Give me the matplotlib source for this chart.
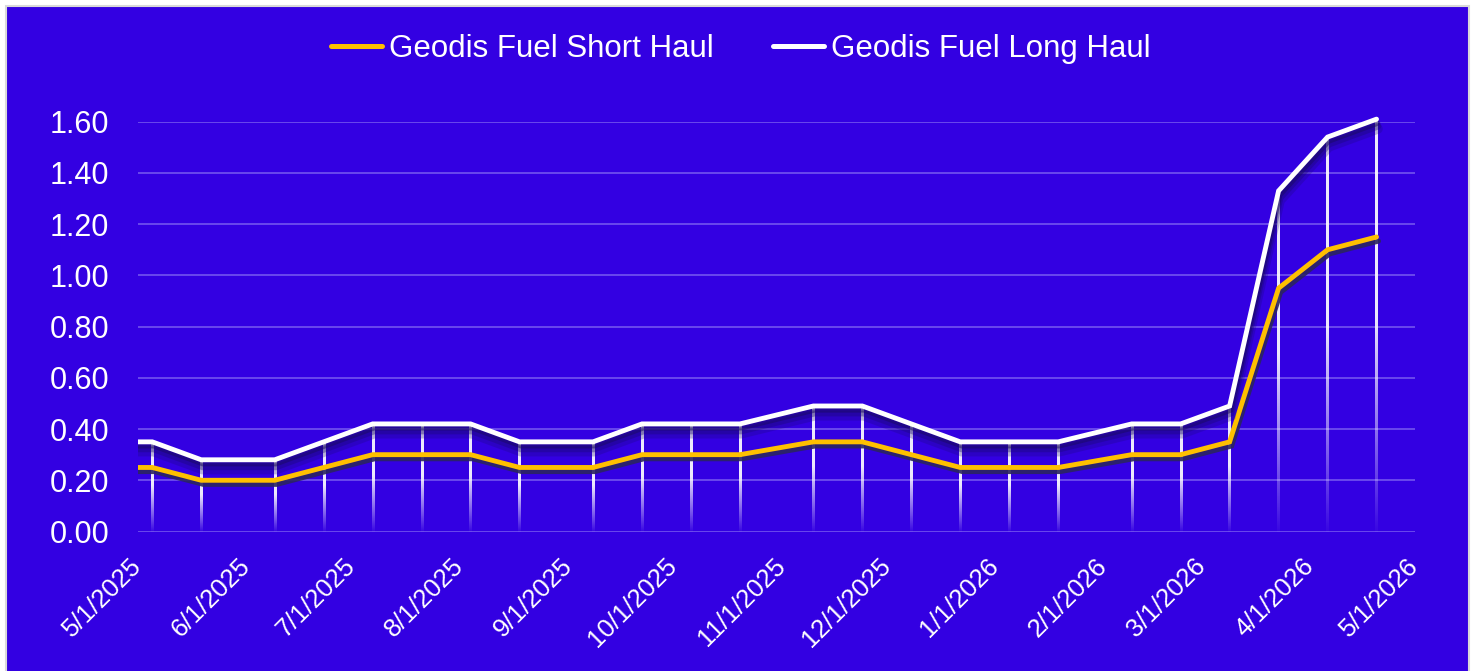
import numpy as np
import pandas as pd
import matplotlib
matplotlib.use("Agg")
import matplotlib.pyplot as plt
import matplotlib.dates as mdates
import matplotlib.patheffects as pe
from matplotlib.lines import Line2D
from matplotlib.patches import Rectangle

# data (first point sits just before the axis start and is clipped)
dates = ["2025-04-21", "2025-05-05", "2025-05-19", "2025-06-09", "2025-06-23",
         "2025-07-07", "2025-07-21", "2025-08-04", "2025-08-18", "2025-09-08",
         "2025-09-22", "2025-10-06", "2025-10-20", "2025-11-10", "2025-11-24",
         "2025-12-08", "2025-12-22", "2026-01-05", "2026-01-19", "2026-02-09",
         "2026-02-23", "2026-03-09", "2026-03-23", "2026-04-06", "2026-04-20"]
short_haul = [0.25, 0.25, 0.20, 0.20, 0.25, 0.30, 0.30, 0.30, 0.25, 0.25,
              0.30, 0.30, 0.30, 0.35, 0.35, 0.30, 0.25, 0.25, 0.25, 0.30,
              0.30, 0.35, 0.95, 1.10, 1.15]
long_haul = [0.35, 0.35, 0.28, 0.28, 0.35, 0.42, 0.42, 0.42, 0.35, 0.35,
             0.42, 0.42, 0.42, 0.49, 0.49, 0.42, 0.35, 0.35, 0.35, 0.42,
             0.42, 0.49, 1.33, 1.54, 1.61]
series_names = ["Geodis Fuel Short Haul", "Geodis Fuel Long Haul"]
month_ticks = pd.date_range("2025-05-01", "2026-05-01", freq="MS")
y_ticks = [0.0, 0.2, 0.4, 0.6, 0.8, 1.0, 1.2, 1.4, 1.6]

BG = "#3300E2"
ORANGE = "#FFC000"
GRID = "#6E4EEE"

plt.rcParams["font.family"] = ["Liberation Sans", "DejaVu Sans"]

x = pd.to_datetime(dates)

fig = plt.figure(figsize=(14.75, 6.71), dpi=100)
fig.patch.set_facecolor("white")
fig.patches.append(Rectangle((6 / 1475, -0.05), 1463 / 1475, 665 / 671 + 0.05,
                             transform=fig.transFigure, facecolor=BG,
                             edgecolor="#D9D9D9", lw=1.5, zorder=-1))

ax = fig.add_axes([138.3 / 1475, 1 - 531.5 / 671, (1415 - 138.3) / 1475, (531.5 - 121.7) / 671])
ax.set_facecolor("none")
for s in ax.spines.values():
    s.set_visible(False)

# clip: keep x inside the axes but let the top point go slightly above 1.60
clip = Rectangle((0, -0.02), 1, 1.1, transform=ax.transAxes)

# drop lines, fading towards the baseline (thin gradient images)
xnum = mdates.date2num(x)
half_w = 0.32  # days, ~2 px
for xi, top in zip(xnum, np.maximum(short_haul, long_haul)):
    frac = np.linspace(1, 0, 200)[:, None]
    grad = np.ones((200, 1, 4))
    grad[..., 3] = np.clip(0.03 + 1.7 * frac, 0, 0.92)
    im = ax.imshow(grad, extent=(xi - half_w, xi + half_w, 0, top), aspect="auto",
                   interpolation="bilinear", zorder=2)
    im.set_clip_path(clip)

white_fx = [pe.SimpleLineShadow(offset=(1, -7), shadow_color="#1A0A70", alpha=0.25, linewidth=7),
            pe.SimpleLineShadow(offset=(1, -5), shadow_color="#1A0A70", alpha=0.35, linewidth=5),
            pe.SimpleLineShadow(offset=(1, -3), shadow_color="#1A0A60", alpha=0.5),
            pe.Normal()]
orange_fx = [pe.SimpleLineShadow(offset=(1.5, -3), shadow_color="#2C2560", alpha=0.9),
             pe.Normal()]

l1, = ax.plot(x, short_haul, color=ORANGE, lw=3.5, zorder=3,
              solid_joinstyle="miter", solid_capstyle="round", path_effects=orange_fx)
l2, = ax.plot(x, long_haul, color="white", lw=3.5, zorder=4,
              solid_joinstyle="miter", solid_capstyle="round", path_effects=white_fx)
l1.set_clip_path(clip)
l2.set_clip_path(clip)

ax.set_xlim(month_ticks[0], month_ticks[-1])
ax.set_ylim(0, 1.6)
ax.set_yticks(y_ticks)
ax.set_yticklabels(["%.2f" % v for v in y_ticks])
ax.set_xticks(month_ticks)
ax.set_xticklabels([f"{d.month}/{d.day}/{d.year}" for d in month_ticks],
                   rotation=45, ha="right", va="center", rotation_mode="anchor")
ax.tick_params(axis="y", length=0, pad=21, labelsize=22, labelcolor="white")
ax.tick_params(axis="x", length=0, pad=22, labelsize=18.5, labelcolor="white")
ax.grid(axis="y", color=GRID, lw=1.3)
ax.set_axisbelow(True)

handles = [Line2D([], [], color=ORANGE, lw=3.6, solid_capstyle="round"),
           Line2D([], [], color="white", lw=3.6, solid_capstyle="round")]
fig.legend(handles, series_names, loc="center", bbox_to_anchor=(0.502, 0.927), ncol=2,
           frameon=False, fontsize=22.5, labelcolor="white", handlelength=1.65,
           handletextpad=0.2, columnspacing=1.9)

fig.savefig("out.png", dpi=100, facecolor=fig.get_facecolor())
